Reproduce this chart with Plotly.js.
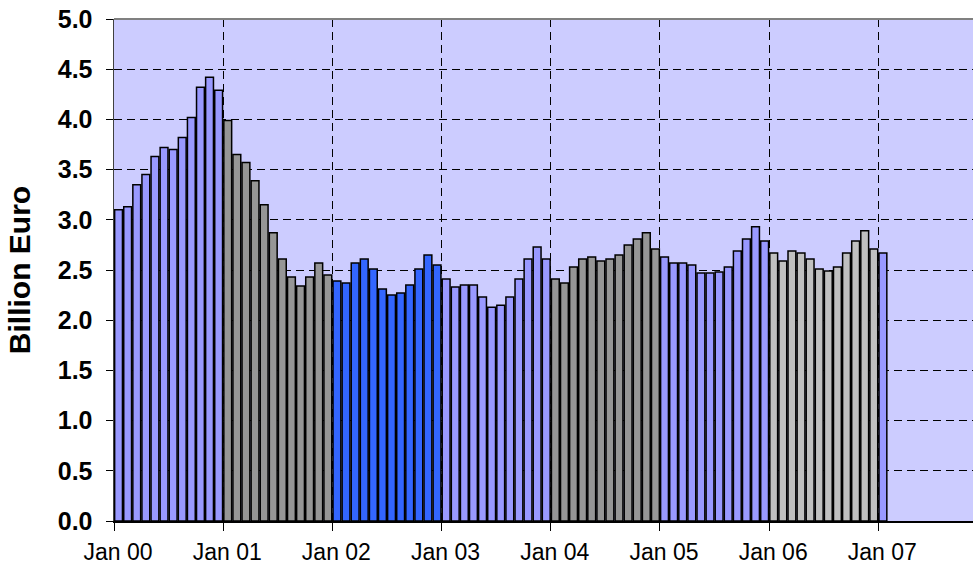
<!DOCTYPE html>
<html>
<head>
<meta charset="utf-8">
<script src="https://cdn.plot.ly/plotly-3.0.1.min.js"></script>
<style>html,body{margin:0;padding:0;background:#fff;overflow:hidden;}#chart{width:974px;height:567px;}</style>
</head>
<body>
<div id="chart"></div>
<script>
// Monthly values (billion euro), Jan 2000 .. Jan 2007
const values2000 = [3.10, 3.13, 3.35, 3.45, 3.63, 3.72, 3.70, 3.82, 4.02, 4.32, 4.42, 4.29];
const values2001 = [3.99, 3.65, 3.57, 3.39, 3.15, 2.87, 2.61, 2.43, 2.34, 2.43, 2.57, 2.45];
const values2002 = [2.39, 2.37, 2.57, 2.61, 2.51, 2.31, 2.25, 2.27, 2.35, 2.51, 2.65, 2.55];
const values2003 = [2.41, 2.33, 2.35, 2.35, 2.23, 2.13, 2.15, 2.23, 2.41, 2.61, 2.73, 2.61];
const values2004 = [2.41, 2.37, 2.53, 2.61, 2.63, 2.59, 2.61, 2.65, 2.75, 2.81, 2.87, 2.71];
const values2005 = [2.63, 2.57, 2.57, 2.55, 2.47, 2.47, 2.48, 2.53, 2.69, 2.81, 2.93, 2.79];
const values2006 = [2.67, 2.59, 2.69, 2.67, 2.61, 2.51, 2.49, 2.53, 2.67, 2.79, 2.89, 2.71];
const values2007 = [2.67];
const yearSeries = [values2000, values2001, values2002, values2003, values2004, values2005, values2006, values2007];
const yearColors = ['#9999FF', '#969696', '#3366FF', '#9999FF', '#969696', '#9999FF', '#C0C0C0', '#9999FF'];
const tickLabels = ['Jan 00', 'Jan 01', 'Jan 02', 'Jan 03', 'Jan 04', 'Jan 05', 'Jan 06', 'Jan 07'];
const yTickLabels = ['0.0', '0.5', '1.0', '1.5', '2.0', '2.5', '3.0', '3.5', '4.0', '4.5', '5.0'];

const x = [], y = [], colors = [];
let m = 0;
yearSeries.forEach((vals, yi) => {
  vals.forEach(v => { x.push(m + 0.5); y.push(v); colors.push(yearColors[yi]); m++; });
});
const tickVals = tickLabels.map((_, i) => i * 12);
const yTickVals = yTickLabels.map(s => parseFloat(s));

const trace = {
  type: 'bar', x: x, y: y,
  marker: { color: colors, line: { color: '#000000', width: 1.5 } },
  hoverinfo: 'y'
};

const layout = {
  width: 974, height: 567,
  margin: { l: 114, r: 1, t: 19, b: 46 },
  paper_bgcolor: '#FFFFFF',
  plot_bgcolor: '#CCCCFF',
  bargap: 0.14,
  showlegend: false,
  font: { family: 'Liberation Sans, Arial, sans-serif', color: '#000' },
  xaxis: {
    range: [0, 94.4], autorange: false,
    tickmode: 'array', tickvals: tickVals, ticktext: tickLabels,
    ticks: 'outside', ticklen: 8, tickcolor: '#000', tickwidth: 1,
    ticklabelstandoff: 2, ticklabelshift: 4,
    tickfont: { size: 23, family: 'Liberation Sans, Arial, sans-serif' },
    showline: true, linecolor: '#000', linewidth: 1.5,
    showgrid: true, gridcolor: '#000', gridwidth: 1, griddash: '8px,5px',
    zeroline: false, fixedrange: true
  },
  yaxis: {
    range: [0, 5], autorange: false,
    tickmode: 'array', tickvals: yTickVals, ticktext: yTickLabels,
    ticks: 'outside', ticklen: 7, tickcolor: '#000', tickwidth: 1,
    ticklabelstandoff: 8,
    tickfont: { size: 25, family: 'Liberation Sans, Arial, sans-serif', weight: 'bold' },
    showline: true, linecolor: '#404040', linewidth: 1.5,
    showgrid: true, gridcolor: '#000', gridwidth: 1, griddash: '8px,5px',
    zeroline: false, fixedrange: true,
    title: { text: '<b>Billion Euro</b>', font: { size: 30, family: 'Liberation Sans, Arial, sans-serif' }, standoff: 18 }
  },
  shapes: [{ type: 'line', xref: 'paper', yref: 'paper', x0: 0, x1: 1, y0: 1, y1: 1, line: { color: '#808080', width: 2 } }]
};

Plotly.newPlot('chart', [trace], layout, { displayModeBar: false, staticPlot: true });
</script>
</body>
</html>
